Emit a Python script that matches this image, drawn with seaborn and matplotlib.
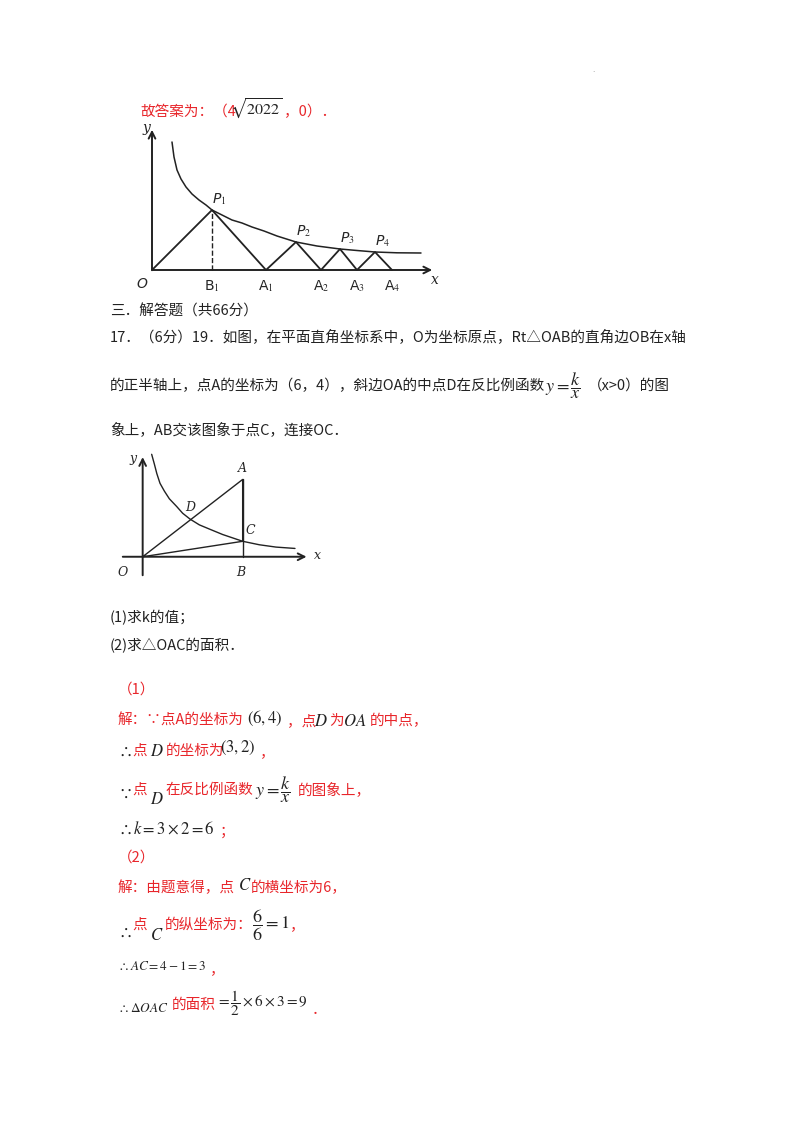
import numpy as np
import pandas as pd
import seaborn as sns
import matplotlib.pyplot as plt

sns.set_theme(style="white")
plt.rcParams['font.family'] = ['Noto Sans CJK SC', 'DejaVu Sans']
plt.rcParams['mathtext.fontset'] = 'stix'

W, H = 800, 1132
RED = '#e8262b'
BLK = '#222222'

# ---- figure 1 data (zigzag under the curve) ----
curve1_x = [2.0, 2.2, 2.5, 2.9, 3.4, 4.0, 4.7, 5.4, 6.0, 7.0, 8.0, 9.0, 10.0, 11.2,
            12.5, 14.4, 16.5, 18.8, 20.5, 22.3, 24.5, 26.9]
curve1_y = [12.8, 11.3, 10.0, 9.1, 8.3, 7.6, 7.0, 6.5, 6.0, 5.5, 5.0, 4.7, 4.3, 3.9,
            3.4, 2.8, 2.4, 2.1, 1.95, 1.8, 1.72, 1.7]
zig_x = [0, 6.0, 11.4, 14.4, 16.9, 18.8, 20.5, 22.3, 24.0]
zig_y = [0, 6.0, 0, 2.8, 0, 2.1, 0, 1.8, 0]
pts1 = {'P$_1$': (6.0, 6.0), 'P$_2$': (14.4, 2.8), 'P$_3$': (18.8, 2.1), 'P$_4$': (22.3, 1.8)}
base1 = {'B$_1$': 6.0, 'A$_1$': 11.4, 'A$_2$': 16.9, 'A$_3$': 20.5, 'A$_4$': 24.0}

# ---- figure 2 data (triangle OAB) ----
curve2_x = [0.54, 0.7, 0.85, 1.04, 1.3, 1.6, 2.04, 2.4, 2.84, 3.4, 4.04, 4.8, 6.0, 7.0, 8.0, 9.14]
curve2_y = [5.3, 4.8, 4.3, 3.8, 3.4, 3.0, 2.6, 2.25, 1.95, 1.65, 1.42, 1.15, 0.8, 0.62, 0.5, 0.43]
tri_x = [0, 6, 6, 0]
tri_y = [0, 4, 0.8, 0]
pts2 = {'A': (6, 4), 'D': (2.84, 1.95), 'C': (6, 0.8), 'B': (6, 0)}

fig = plt.figure(figsize=(W / 100, H / 100), dpi=100)


def px_axes(x0, y0, x1, y1):
    ax = fig.add_axes([x0 / W, 1 - y1 / H, (x1 - x0) / W, (y1 - y0) / H])
    ax.set_axis_off()
    return ax


def t(x, y, s, color=BLK, size=10.5, **kw):
    fig.text(x / W, 1 - y / H, s, color=color, fontsize=size, va='center', ha='left', **kw)


def arrow(ax, p0, p1):
    ax.annotate('', xy=p1, xytext=p0,
                arrowprops=dict(arrowstyle='->', color=BLK, lw=1.4, mutation_scale=12))


# diagram 1
ax1 = px_axes(130, 118, 445, 292)
ax1.set_xlim(-2.2, 29.3)
ax1.set_ylim(-2.2, 15.2)
arrow(ax1, (-0.2, 0), (28.3, 0))
arrow(ax1, (0, -0.3), (0, 14.3))
sns.lineplot(x=curve1_x, y=curve1_y, ax=ax1, color=BLK, lw=1.1, sort=False, estimator=None)
sns.lineplot(x=zig_x, y=zig_y, ax=ax1, color=BLK, lw=1.3, sort=False, estimator=None)
ax1.plot([6.0, 6.0], [0, 6.0], color=BLK, lw=1, ls='--')
for k, (x, y) in pts1.items():
    ax1.text(x, y + 0.3, k, fontsize=10, style='italic', ha='left', va='bottom', family='DejaVu Sans')
for k, x in base1.items():
    ax1.text(x, -0.8, k, fontsize=10, ha='center', va='top', family='DejaVu Sans')
ax1.text(-1.0, -0.7, 'O', fontsize=10, style='italic', ha='center', va='top', family='DejaVu Sans')
ax1.text(-0.6, 14.2, 'y', fontsize=10, style='italic', ha='center', va='center', family='serif')
ax1.text(28.3, -1.0, 'x', fontsize=10, style='italic', ha='center', va='center', family='serif')

# diagram 2
ax2 = px_axes(110, 440, 340, 590)
ax2.set_xlim(-1.96, 11.84)
ax2.set_ylim(-1.72, 6.04)
arrow(ax2, (-1.36, 0), (10.0, 0))
arrow(ax2, (0, -1.1), (0, 5.3))
sns.lineplot(x=curve2_x, y=curve2_y, ax=ax2, color=BLK, lw=1.0, sort=False, estimator=None)
sns.lineplot(x=tri_x, y=tri_y, ax=ax2, color=BLK, lw=1.0, sort=False, estimator=None)
ax2.plot([6, 6], [0, 4], color=BLK, lw=1.0)
ax2.text(-1.2, -0.5, 'O', fontsize=9, style='italic', ha='center', va='top', family='serif')
ax2.text(-0.6, 5.1, 'y', fontsize=9, style='italic', ha='center', va='center', family='serif')
ax2.text(10.5, 0.05, 'x', fontsize=9, style='italic', ha='center', va='center', family='serif')
ax2.text(pts2['A'][0] - 0.3, pts2['A'][1] + 0.25, 'A', fontsize=9, style='italic', va='bottom', family='serif')
ax2.text(pts2['D'][0] - 0.3, pts2['D'][1] + 0.25, 'D', fontsize=9, style='italic', va='bottom', family='serif')
ax2.text(pts2['C'][0] + 0.2, pts2['C'][1] + 0.2, 'C', fontsize=9, style='italic', va='bottom', family='serif')
ax2.text(pts2['B'][0] - 0.4, -0.5, 'B', fontsize=9, style='italic', va='top', family='serif')

# text of the page
t(140, 112, '故答案为：（4', RED)
t(230, 109, r'$\sqrt{2022}$', BLK, 11.5)
t(284, 112, '，0）．', RED)
t(110, 312, '三．解答题（共66分）')
t(110, 337, '17．（6分）19．如图，在平面直角坐标系中，O为坐标原点，Rt△OAB的直角边OB在x轴')
t(110, 386, '的正半轴上，点A的坐标为（6，4），斜边OA的中点D在反比例函数')
t(545, 386, r'$y=\dfrac{k}{x}$', BLK, 13)
t(588, 386, '（x>0）的图')
t(110, 430, '象上，AB交该图象于点C，连接OC．')
t(110, 618, '(1)求k的值；')
t(110, 646, '(2)求△OAC的面积．')

t(118, 690, '（1）', RED)
t(118, 721, '解：∵点A的坐标为', RED)
t(247, 718, r'$(6,4)$', BLK, 12)
t(287, 721, '，点', RED)
t(314, 721, r'$D$', BLK, 12)
t(329, 721, '为', RED)
t(343, 721, r'$OA$', BLK, 12)
t(370, 721, '的中点，', RED)
t(118, 751, r'$\therefore$', BLK, 12)
t(132, 751, '点', RED)
t(150, 751, r'$D$', BLK, 12)
t(166, 751, '的坐标为', RED)
t(220, 748, r'$(3,2)$', BLK, 12)
t(260, 752, '，', RED)
t(118, 793, r'$\because$', BLK, 12)
t(132, 790, '点', RED)
t(150, 800, r'$D$', BLK, 12)
t(165, 790, '在反比例函数', RED)
t(255, 790, r'$y=\dfrac{k}{x}$', BLK, 13)
t(298, 790, '的图象上，', RED)
t(118, 829, r'$\therefore k=3\times2=6$', BLK, 12)
t(220, 832, '；', RED)
t(118, 858, '（2）', RED)
t(118, 888, '解：由题意得，点', RED)
t(238, 885, r'$C$', BLK, 12)
t(251, 888, '的横坐标为6，', RED)
t(118, 932, r'$\therefore$', BLK, 12)
t(132, 925, '点', RED)
t(150, 935, r'$C$', BLK, 12)
t(165, 925, '的纵坐标为：', RED)
t(252, 925, r'$\dfrac{6}{6}=1$', BLK, 13)
t(290, 925, '，', RED)
t(118, 966, r'$\therefore AC=4-1=3$', BLK, 9.5)
t(210, 969, '，', RED)
t(118, 1009, r'$\therefore \Delta OAC$', BLK, 9.5)
t(172, 1005, '的面积', RED)
t(216, 1003, r'$=\dfrac{1}{2}\times6\times3=9$', BLK, 11)
t(312, 1010, '．', RED)
t(592, 70, '.', '#888888', 6)

fig.savefig('out.png', dpi=100)
